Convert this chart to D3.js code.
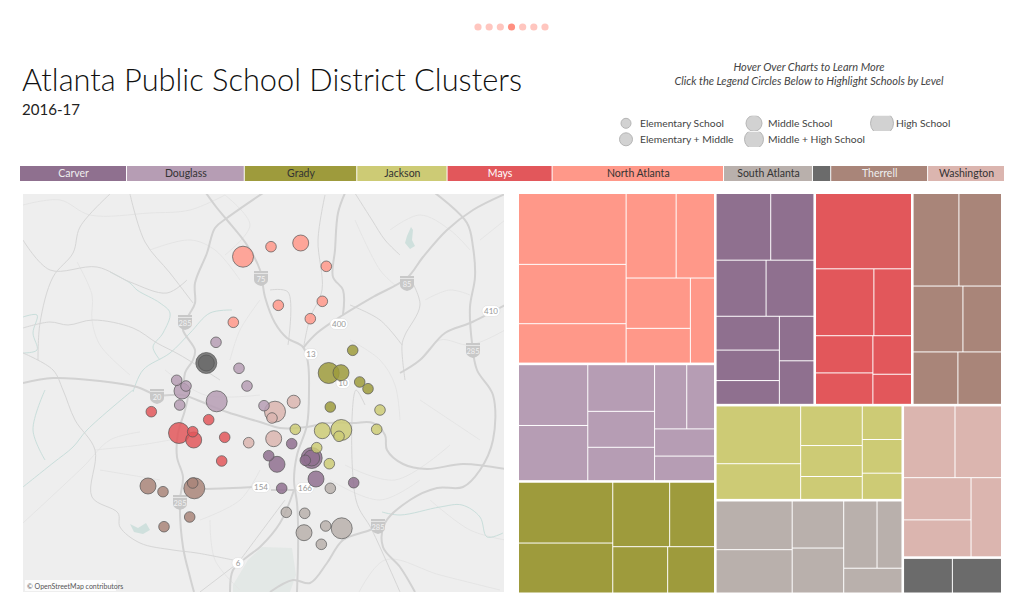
<!DOCTYPE html>
<html><head><meta charset="utf-8">
<script src="https://cdn.jsdelivr.net/npm/d3@7"></script>
<style>html,body{margin:0;padding:0;background:#fff;overflow:hidden}svg{display:block}
text{font-family:"Lato",sans-serif}</style></head>
<body><svg id="c" width="1024" height="609"></svg>
<script>
const clusterNames=["Carver","Douglass","Grady","Jackson","Mays","North Atlanta","South Atlanta","","Therrell","Washington"];
const clusterColors=["#8f708f","#b69db4","#9e9b3c","#cdcb75","#e2575b","#ff9889","#b9b0ac","#6b6b6b","#a98579","#dbb5af"];
const clusterLabelColors=["#eeeeee","#333333","#333333","#333333","#ffffff","#333333","#333333","#ffffff","#eeeeee","#333333"];

// treemap: nested enrolment-like values; "h" = side by side, "v" = stacked
const carver=["v",["h",3568,2825],["h",2748,2632],["h",["v",2098,1890,1474],["v",1509,1475]]];
const douglass=["h",["v",4120,3740],["v",3050,2350,2180],["v",["h",2020,1745],1595,1440]];
const grady=["h",["v",5610,4610],["v",["h",3590,2830],["h",2490,2125]]];
const jackson=["h",["v",4796,2963],["v",2397,1873,1385],["v",1309,1313,1022]];
const mays=["v",7088,["h",3828,2468],["h",["v",2092,1767],["v",1459,1140]]];
const northAtlanta=["h",["v",7430,6220,4130],["v",["h",4120,3160],["h",["v",3150,2175],2000]]];
const southAtlanta=["h",["v",3637,3238],["v",2382,2275],["v",["h",2201,1647],1419]];
const grayCluster=["h",1719,1730];
const therrell=["v",["h",4163,3871],["h",3224,2496],["h",2306,2244]];
const washington=["v",["h",3627,3280],["h",["v",2800,2450],2371]];
const clusterTrees=[carver,douglass,grady,jackson,mays,northAtlanta,southAtlanta,grayCluster,therrell,washington];

// schools
const schoolCluster=[5,5,5,5,5,5,5,5, 1,1,1,1,1,1,1,1,1, 7,7, 2,2,2,2,2,2, 3,3,3,3,3,3,3,3, 4,4,4,4,4,4,4, 9,9,9,9,9, 8,8,8,8,8,8, 0,0,0,0,0,0,0,0,0, 6,6,6,6,6,6,6];
const schoolEast=[243,233.3,300.7,271,326.3,278.3,322.3,310.3, 216,239,176.7,186,247,182,216.7,179.7,264, 206.3,206.3, 352.7,328.7,341,359.7,368,330.3, 380,376.7,295.3,322.3,341.3,339,316.7,329.3, 151.3,208.7,179,192.7,193.7,224.7,221.7, 248.7,275,272,293.7,273.7, 148,163,194.3,192.7,189.7,164, 291.7,268.7,277,311.7,311.7,305.3,316,353.7,281.7, 330.3,286.3,304.7,304,325.7,341.7,321.3];
const schoolSouth=[256.7,322.3,243,246.7,266.3,305.3,301.3,318.7, 342.3,368.3,380.3,386,386,391,401.3,405,405.7, 363,363, 350.3,373,372.7,382,388.7,407, 410,429.3,429.3,430.7,430,436.3,447.7,463.7, 411.7,419.7,433,431.7,440,437.3,461, 442.7,411.7,418,401.7,438.7, 486,491.7,488.3,483,517,526.7, 443.7,455.7,464.3,458,458,460.3,479,482.7,488.3, 488.3,512.3,513.3,532.7,526,528.3,544.3];
const schoolLevel=["H","E","M","E","E","E","E","E", "E","E","E","E","E","M","H","E","E", "H","M", "E","H","M","E","E","E", "E","E","E","M","H","E","E","E", "E","E","H","E","M","E","E", "E","H","E","EM","M", "M","E","H","E","E","E", "E","E","M","H","M","E","M","E","E", "E","E","E","M","E","H","E"];
const levelCodes=["E","EM","M","MH","H"];
const levelNames=["Elementary School","Elementary + Middle","Middle School","Middle + High School","High School"];
const levelRadius=[5.3,6.5,8,9,10.5];

// base map polylines (map units)
const highways=[
 [[206,193],[217,208],[227,220],[247,245],[260,270],[265,297],[275,323],[287,338],[303,347],[308,363],[309,390],[307,425],[297,455],[294,480],[297,503],[298,523],[298,557],[297,592]],
 [[294,490],[280,523],[260,547],[247,557],[233,570],[230,592]],
 [[263,193],[227,218],[215,228],[207,253],[195,283],[195,303],[190,313],[185,322],[183,330],[195,350],[193,360],[185,373],[185,390],[188,393],[185,410],[178,433],[177,457],[183,477],[180,500],[183,547],[190,577],[194,592]],
 [[23,383],[53,378],[100,381],[137,387],[157,395],[183,395],[197,400],[227,412],[260,422],[280,428],[307,427],[327,423],[353,423],[373,423],[385,435],[387,450],[403,464],[427,469],[463,464],[505,469]],
 [[435,193],[467,223],[473,247],[475,277],[470,307],[472,343],[477,370],[493,395],[493,440],[480,470],[463,487],[437,488],[410,500],[385,523],[383,547],[400,567],[415,592]],
 [[385,522],[370,530],[343,540],[327,563],[310,583],[293,580],[270,592]],
 [[505,194],[473,210],[447,230],[423,257],[407,278],[373,297],[343,315],[317,333],[303,348]],
 [[345,193],[338,213],[335,250],[333,277],[343,290],[343,315]],
 [[505,305],[470,323],[445,333],[420,360],[400,373]],
 [[205,489],[233,488],[253,487]],[[271,490],[297,490]]
];
const mainRoads=[
 [[130,194],[145,242],[170,273],[193,303]],
 [[110,194],[80,227],[73,253],[53,277],[40,323],[38,360]],
 [[23,240],[50,270],[97,267],[130,282],[167,293],[187,280]],
 [[23,328],[50,322],[68,325],[93,320],[133,328],[157,343],[180,355],[220,380]],
 [[23,353],[53,370],[63,390],[75,420],[95,450],[92,497],[118,513],[120,527],[140,543],[173,550],[197,553],[233,560]],
 [[365,405],[356,390],[356,500],[372,530],[400,592]],
 [[353,190],[372,220],[385,240],[400,255]],
 [[410,278],[420,305],[405,335],[402,345],[405,380]],
 [[402,345],[380,320],[350,305]],
 [[325,195],[318,240],[322,290],[310,318],[304,345]],
 [[270,290],[288,292],[288,345]],
 [[238,563],[270,520],[285,500]],
 [[238,563],[200,592]]
];
const minorRoads=[
 [[23,205],[60,200],[90,215],[150,213],[190,210],[225,195]],
 [[77,262],[92,295],[92,320],[100,345],[130,375]],
 [[23,523],[83,467],[110,440],[140,432]],
 [[100,470],[130,475],[160,480]],
 [[390,230],[420,215],[450,230],[470,250]],
 [[420,360],[440,340],[470,345],[505,330]],
 [[420,400],[450,420],[480,440]],
 [[430,500],[470,530],[505,540]],
 [[330,480],[380,500],[420,480]],
 [[350,340],[380,360],[395,385],[400,420]],
 [[355,600],[385,560],[440,575],[500,590]],
 [[165,370],[205,395],[260,395]],
 [[150,250],[190,240],[215,250],[240,280]],
 [[225,195],[250,225],[225,255]],
 [[95,450],[140,445],[170,440]],
 [[200,520],[240,500],[260,470]],
 [[355,220],[380,270],[395,285]],
 [[480,240],[505,220]],
 [[425,300],[450,290],[470,295]],
 [[260,300],[240,330],[230,360]],
 [[345,465],[395,480],[450,445]],
 [[210,520],[215,560],[240,590]]
];
const rivers=[
 [[110,272],[130,283],[137,290],[160,303],[170,313],[163,333],[153,347],[160,360]],
 [[133,392],[143,370],[170,353],[190,333],[210,313],[232,310]],
 [[133,390],[87,430],[73,447],[53,463],[23,487]],
 [[23,317],[37,315],[33,333],[37,350],[23,353]],
 [[45,390],[33,430],[45,460]],
 [[382,512],[400,515],[440,507],[462,505],[480,517],[487,537],[503,533]]
];
const waterPatches=[
 [[130,524],[138,528],[146,523],[150,530],[143,534],[134,532]],
 [[407,236],[411,227],[413,230],[412,240],[415,246],[410,249],[405,243]],
 [[233,585],[248,560],[262,547],[292,548],[296,575],[290,592],[233,592]]
];
const shieldLabels=["285","75","85","285","20","285","285"];
const shieldEast=[185,261,407,473,157,180,378];
const shieldSouth=[322,278,283,350,396,502,526];
const ovalLabels=["400","13","10","410","154","166","6"];
const ovalEast=[339,311,343,491,261,305,238];
const ovalSouth=[324,354,383,311,487,488,563];

const svg=d3.select("#c");
// pager dots
const pagerPages=d3.range(7);
const pagerX=d3.scalePoint().domain(pagerPages).range([478,545]);
svg.selectAll("circle.pg").data(pagerPages).join("circle").attr("class","pg")
 .attr("cx",d=>pagerX(d)).attr("cy",27).attr("r",3.6).attr("fill",d=>d===3?"#ff8f80":"#ffc6bf");

// titles
svg.append("text").attr("x",22).attr("y",91).attr("font-size",32).attr("font-weight",300).attr("fill","#111")
 .attr("textLength",500).attr("lengthAdjust","spacingAndGlyphs").text("Atlanta Public School District Clusters");
svg.append("text").attr("x",22).attr("y",115).attr("font-size",16).attr("fill","#222")
 .attr("textLength",58).attr("lengthAdjust","spacingAndGlyphs").text("2016-17");
[["Hover Over Charts to Learn More",71],["Click the Legend Circles Below to Highlight Schools by Level",85]].forEach(([t,y])=>
 svg.append("text").attr("x",809).attr("y",y).attr("text-anchor","middle").attr("font-size",11).attr("font-style","italic").attr("fill","#444").text(t));

// level legend
const legX=[626,626,754,754,882], legY=[123.3,139.3,123.3,139.3,123.3], legTx=[640,640,768,768,896];
const defs=svg.append("defs");
levelNames.forEach((n,i)=>{
 defs.append("clipPath").attr("id","lg"+i).append("rect").attr("x",legX[i]-14).attr("y",legY[i]-7.6).attr("width",28).attr("height",15.2);
 svg.append("circle").attr("cx",legX[i]).attr("cy",legY[i]).attr("r",[5,6.5,8,9.5,11.5][i]).attr("fill","#d2d2d2").attr("stroke","#b5b5b5").attr("stroke-width",1).attr("clip-path",`url(#lg${i})`);
 svg.append("text").attr("x",legTx[i]).attr("y",legY[i]+3.7).attr("font-size",10.3).attr("fill","#444").text(n);
});

// cluster color bar
const clusterRoots=clusterTrees.map(t=>d3.hierarchy(t,d=>Array.isArray(d)?d.slice(1):null).sum(d=>typeof d==="number"?d:0).value);
const barTotal=d3.sum(clusterRoots);
const barX=d3.scaleLinear().domain([0,barTotal]).range([20,1005]);
let cum=0;
clusterNames.forEach((n,i)=>{
 const a=barX(cum),b=barX(cum+clusterRoots[i]);cum+=clusterRoots[i];
 svg.append("rect").attr("x",a).attr("y",166).attr("width",b-a-1).attr("height",15).attr("fill",clusterColors[i]);
 if(n)svg.append("text").attr("x",(a+b)/2).attr("y",177).attr("text-anchor","middle").attr("font-size",10.5).attr("fill",clusterLabelColors[i]).text(n);
});

// map
const mapX=d3.scaleLinear().domain([23,504]).range([23,504]);
const mapY=d3.scaleLinear().domain([194,592]).range([194,592]);
defs.append("clipPath").attr("id","mapclip").append("rect").attr("x",mapX(23)).attr("y",mapY(194)).attr("width",481).attr("height",398);
const gm=svg.append("g").attr("clip-path","url(#mapclip)");
gm.append("rect").attr("x",23).attr("y",194).attr("width",481).attr("height",398).attr("fill","#eeeeee");
const line=d3.line().x(d=>mapX(d[0])).y(d=>mapY(d[1])).curve(d3.curveCatmullRom.alpha(0.5));
const closed=d3.line().x(d=>mapX(d[0])).y(d=>mapY(d[1])).curve(d3.curveLinearClosed);
gm.selectAll("path.wp").data(waterPatches).join("path").attr("d",closed).attr("fill",(d,i)=>i===2?"#e3e8e6":"#cfe0dd");
gm.selectAll("path.mn").data(minorRoads).join("path").attr("d",line).attr("fill","none").attr("stroke","#e3e3e3").attr("stroke-width",0.9);
gm.selectAll("path.rv").data(rivers).join("path").attr("d",line).attr("fill","none").attr("stroke","#c9dedb").attr("stroke-width",1);
gm.selectAll("path.mr").data(mainRoads).join("path").attr("d",line).attr("fill","none").attr("stroke","#d6d6d6").attr("stroke-width",1);
gm.selectAll("path.hw").data(highways).join("path").attr("d",line).attr("fill","none").attr("stroke","#d2d2d2").attr("stroke-width",2);
shieldLabels.forEach((l,i)=>{
 const x=mapX(shieldEast[i]),y=mapY(shieldSouth[i]);
 gm.append("path").attr("d",`M${x-7} ${y-7}h14v9q0 4-7 6q-7-2-7-6z`).attr("fill","#c8c8c8");
 gm.append("rect").attr("x",x-7).attr("y",y-5).attr("width",14).attr("height",0.8).attr("fill","#eee");
 gm.append("text").attr("x",x).attr("y",y+3.5).attr("text-anchor","middle").attr("font-size",7.5).attr("fill","#f2f2f2").text(l);
});
ovalLabels.forEach((l,i)=>{
 const x=mapX(ovalEast[i]),y=mapY(ovalSouth[i]),w=l.length>2?9:l.length>1?7:6;
 gm.append("rect").attr("x",x-w).attr("y",y-5.5).attr("width",w*2).attr("height",11).attr("rx",5.5).attr("fill","#fff").attr("stroke","#ddd").attr("stroke-width",0.6);
 gm.append("text").attr("x",x).attr("y",y+3).attr("text-anchor","middle").attr("font-size",8).attr("fill","#999").text(l);
});
// schools
const rScale=d3.scaleOrdinal().domain(levelCodes).range(levelRadius);
const schools=schoolEast.map((e,i)=>({e,s:schoolSouth[i],c:schoolCluster[i],l:schoolLevel[i]}));
schools.sort((a,b)=>rScale(b.l)-rScale(a.l));
gm.selectAll("circle.sc").data(schools).join("circle").attr("class","sc")
 .attr("cx",d=>mapX(d.e)).attr("cy",d=>mapY(d.s)).attr("r",d=>rScale(d.l))
 .attr("fill",d=>clusterColors[d.c]).attr("fill-opacity",0.85).attr("stroke","#555").attr("stroke-opacity",0.7).attr("stroke-width",1);
gm.append("rect").attr("x",25).attr("y",580).attr("width",91).attr("height",11).attr("fill","#fff").attr("fill-opacity",0.8);
gm.append("text").attr("x",27).attr("y",588.5).attr("font-size",7).attr("fill","#555").text("© OpenStreetMap contributors");

// treemap
const treeRoot=["H",
 ["V",northAtlanta,douglass,grady],
 ["V",["H",carver,mays,therrell],
      ["H",["V",jackson,southAtlanta],["V",washington,grayCluster]]]];
const colorOf=new Map(clusterTrees.map((t,i)=>[t,clusterColors[i]]));
const h=d3.hierarchy(treeRoot,d=>Array.isArray(d)?d.slice(1):null).sum(d=>typeof d==="number"?d:0);
d3.treemap().size([482,398.5])
 .paddingInner(n=>n.data[0]===n.data[0].toUpperCase()?2.6:1)
 .tile((n,x0,y0,x1,y1)=>(n.data[0].toLowerCase()==="h"?d3.treemapDice:d3.treemapSlice)(n,x0,y0,x1,y1))(h);
const gt=svg.append("g").attr("transform","translate(519,194)");
gt.selectAll("rect").data(h.leaves()).join("rect")
 .attr("x",d=>d.x0).attr("y",d=>d.y0).attr("width",d=>d.x1-d.x0).attr("height",d=>d.y1-d.y0)
 .attr("fill",d=>{let p=d;while(p&&!colorOf.has(p.data))p=p.parent;return colorOf.get(p.data);});
</script></body></html>
